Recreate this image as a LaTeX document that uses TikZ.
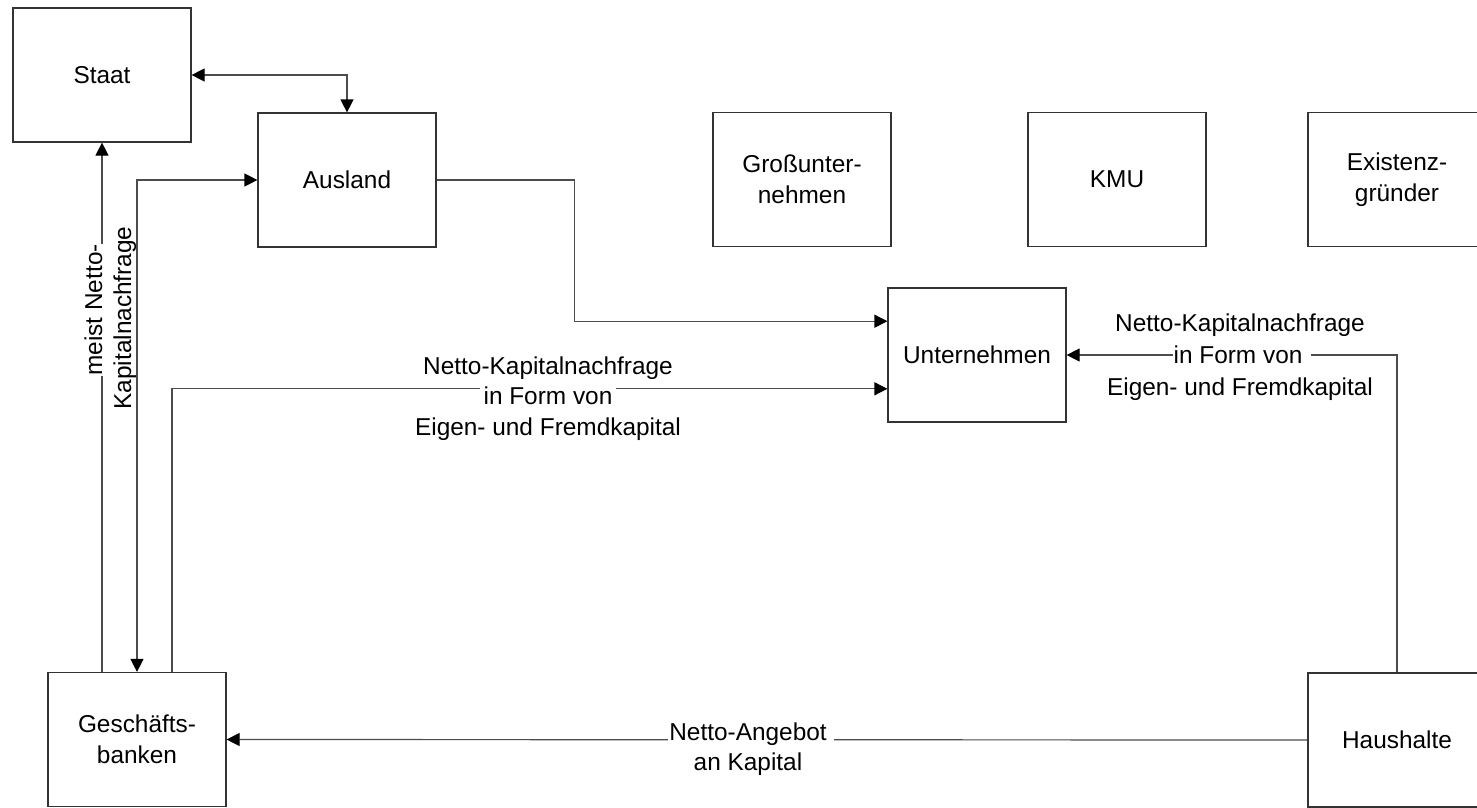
\documentclass[tikz,border=0pt]{standalone}
\usepackage{fontspec}
\setmainfont{Liberation Sans}
\usetikzlibrary{arrows.meta,calc}
\begin{document}
\begin{tikzpicture}[x=1pt,y=-1pt,
  box/.style={draw=black!80, line width=1.2pt, minimum width=178pt, minimum height=134pt,
    align=center, inner sep=0pt, font=\fontsize{24.4}{31}\selectfont},
  conn/.style={draw=black!70, line width=1.2pt},
  tip/.style={-{Triangle[length=13pt,width=13pt,color=black,fill=black]}},
  tips/.style={{Triangle[length=13pt,width=13pt,color=black,fill=black]}-{Triangle[length=13pt,width=13pt,color=black,fill=black]}},
  lbl/.style={font=\fontsize{24.4}{31}\selectfont, inner sep=0pt, anchor=base},
  lblw/.style={lbl, fill=white, inner xsep=4pt, inner ysep=3pt}]
\useasboundingbox (0,0) rectangle (1477,808);
\fill[white] (0,0) rectangle (1477,808);

% boxes
\node[box] (staat)   at (102,75)    {Staat};
\node[box] (ausland) at (347,180)   {Ausland};
\node[box] (gross)   at (802,179.5) {Großunter-\\nehmen};
\node[box] (kmu)     at (1117,179.5){KMU};
\node[box] (exist)   at (1397,179.5){Existenz-\\gründer};
\node[box] (unter)   at (977,355)   {Unternehmen};
\node[box] (gesch)   at (137,739.5) {Geschäfts-\\banken};
\node[box] (haus)    at (1397,740)  {Haushalte};

% connectors
\draw[conn, tips] (staat.east) -| (ausland.north);
\draw[conn, tip] (gesch.north -| staat.south) -- (staat.south);
\draw[conn, tips] (ausland.west) -| (gesch.north);
\draw[conn, tip] ($(gesch.north)+(35,0)$) |- ($(unter.north west)!0.75!(unter.south west)$);
\draw[conn, tip] (ausland.east) -- ++(138,0) |- ($(unter.north west)!0.25!(unter.south west)$);
\draw[conn, tip] (haus.north) |- (unter.east);
\draw[conn, tip] (haus.west) -- (gesch.east);

% labels
\node[lblw, inner xsep=0.5pt] (r1) at (1242,363) {in Form von\rule{8pt}{0pt}};
\node[lbl]  (r0) at (1240,331.5) {Netto-Kapitalnachfrage};
\node[lbl]  (r2) at (1240,395)   {Eigen- und Fremdkapital};

\node[lblw] (l1) at (548,404.5) {in Form von};
\node[lbl]  (l0) at (548,374)   {Netto-Kapitalnachfrage};
\node[lbl]  (l2) at (548,435)   {Eigen- und Fremdkapital};

\node[lblw, inner xsep=1.5pt] (b1) at (751,740) {Netto-Angebot\rule{6pt}{0pt}};
\node[lbl]  (b2) at (748,770) {an Kapital};

\node[lblw, rotate=90, inner xsep=0.5pt] (v1) at (102,310) {meist Netto-};
\node[lbl,  rotate=90] (v2) at (131,318) {Kapitalnachfrage};
\end{tikzpicture}
\end{document}
